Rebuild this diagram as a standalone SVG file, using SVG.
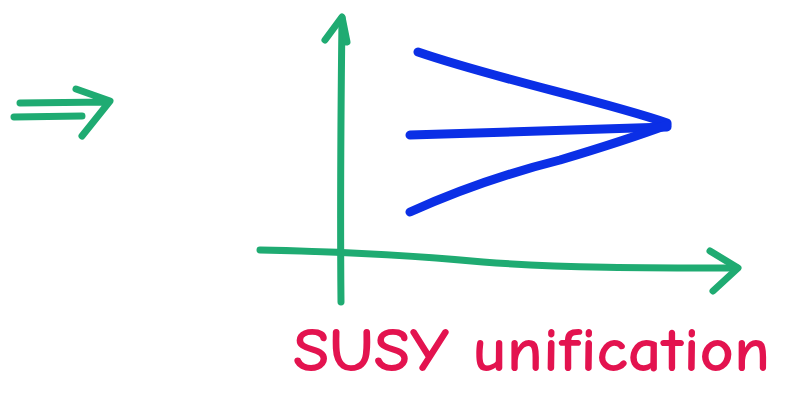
<svg xmlns="http://www.w3.org/2000/svg" width="801" height="395" viewBox="0 0 801 395">
<style>
.g{fill:none;stroke:#1fab72;stroke-width:7;stroke-linecap:round;stroke-linejoin:round}
.b{fill:none;stroke:#0b2fe6;stroke-width:9;stroke-linecap:round;stroke-linejoin:round}
.t{fill:#e3134f;font-family:"Comic Neue","Liberation Sans",sans-serif;font-size:62px;font-weight:bold}
</style>
<rect width="801" height="395" fill="#ffffff"/>
<g id="implies">
<path class="g" d="M20,103 L108,102 M14,117 L82,116 M76,89 L110,101 L82,136"/>
</g>
<g id="axes">
<path class="g" d="M342,18 C341,100 340,200 341,302"/>
<path class="g" d="M325,40 L342,17 L347,42"/>
<path class="g" d="M260,250 C360,252 420,256 483,262 C560,268 650,268 737,268"/>
<path class="g" d="M710,251 L738,268 L713,291"/>
</g>
<g id="couplings">
<path class="b" d="M418,52 C500,80 600,100 667,123"/>
<path class="b" d="M410,135 L667,127"/>
<path class="b" d="M410,212 C470,185 520,170 560,160 C600,148 640,135 667,125"/>
</g>
<text class="t" x="293" y="371" textLength="477" lengthAdjust="spacingAndGlyphs">SUSY unification</text>
</svg>
